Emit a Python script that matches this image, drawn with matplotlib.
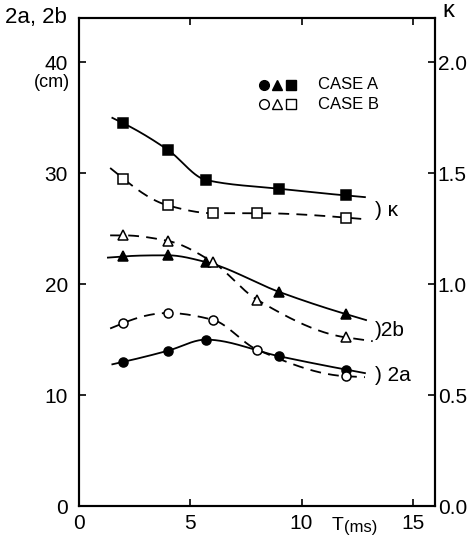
import numpy as np
import matplotlib
matplotlib.use("Agg")
import matplotlib.pyplot as plt

plt.rcParams['font.family'] = ['Liberation Sans', 'DejaVu Sans']

# data, T in ms
t_a_circ = [2.0, 4.0, 5.7, 9.0, 12.0]
a_case_a = [13.0, 14.0, 15.0, 13.5, 12.3]      # 2a, case A (cm)
t_b_circ = [2.0, 4.0, 6.0, 8.0, 12.0]
a_case_b = [16.5, 17.4, 16.8, 14.1, 11.7]      # 2a, case B (cm)

t_a_tri = [2.0, 4.0, 5.7, 9.0, 12.0]
b_case_a = [22.5, 22.6, 22.0, 19.3, 17.3]      # 2b, case A (cm)
t_b_tri = [2.0, 4.0, 6.0, 8.0, 12.0]
b_case_b = [24.4, 23.9, 22.0, 18.6, 15.2]      # 2b, case B (cm)

t_a_sq = [2.0, 4.0, 5.7, 9.0, 12.0]
k_case_a = [1.725, 1.605, 1.47, 1.43, 1.40]    # kappa, case A
t_b_sq = [2.0, 4.0, 6.0, 8.0, 12.0]
k_case_b = [1.475, 1.355, 1.32, 1.32, 1.30]    # kappa, case B

# extent of each drawn curve (ms)
span_a_circ = (1.5, 12.85)
span_b_circ = (1.4, 12.85)
span_a_tri = (1.3, 12.9)
span_b_tri = (1.4, 13.2)
span_a_sq = (1.5, 12.85)
span_b_sq = (1.4, 12.7)


def smooth(x, y, lo, hi, n=200):
    # shape-preserving cubic (pchip) through the points, linear past the ends
    x = np.asarray(x, float)
    y = np.asarray(y, float)
    h = np.diff(x)
    delta = np.diff(y) / h
    m = len(x)
    d = np.zeros(m)
    for k in range(1, m - 1):
        if delta[k - 1] * delta[k] > 0:
            w1 = 2 * h[k] + h[k - 1]
            w2 = h[k] + 2 * h[k - 1]
            d[k] = (w1 + w2) / (w1 / delta[k - 1] + w2 / delta[k])

    def end_slope(h0, h1, d0, d1):
        s = ((2 * h0 + h1) * d0 - h0 * d1) / (h0 + h1)
        if np.sign(s) != np.sign(d0):
            s = 0.0
        elif np.sign(d0) != np.sign(d1) and abs(s) > abs(3 * d0):
            s = 3 * d0
        return s

    d[0] = end_slope(h[0], h[1], delta[0], delta[1])
    d[-1] = end_slope(h[-1], h[-2], delta[-1], delta[-2])

    xs = np.linspace(lo, hi, n)
    ys = np.empty_like(xs)
    for j, xv in enumerate(xs):
        if xv < x[0]:
            ys[j] = y[0] + d[0] * (xv - x[0])
        elif xv > x[-1]:
            ys[j] = y[-1] + d[-1] * (xv - x[-1])
        else:
            i = int(np.clip(np.searchsorted(x, xv) - 1, 0, m - 2))
            t = (xv - x[i]) / h[i]
            h00 = 2 * t ** 3 - 3 * t ** 2 + 1
            h10 = t ** 3 - 2 * t ** 2 + t
            h01 = -2 * t ** 3 + 3 * t ** 2
            h11 = t ** 3 - t ** 2
            ys[j] = h00 * y[i] + h10 * h[i] * d[i] + h01 * y[i + 1] + h11 * h[i] * d[i + 1]
    return xs, ys


fig = plt.figure(figsize=(4.68, 5.35), dpi=100)
ax = fig.add_axes([0.1688, 0.0542, 0.7607, 0.9122])
ax2 = ax.twinx()

lw = 1.3
dash = (0, (6, 4))

series = [
    (ax, t_a_circ, a_case_a, span_a_circ, 'o', True),
    (ax, t_b_circ, a_case_b, span_b_circ, 'o', False),
    (ax, t_a_tri, b_case_a, span_a_tri, '^', True),
    (ax, t_b_tri, b_case_b, span_b_tri, '^', False),
    (ax2, t_a_sq, k_case_a, span_a_sq, 's', True),
    (ax2, t_b_sq, k_case_b, span_b_sq, 's', False),
]
for axis, tx, vy, span, mk, filled in series:
    xs, ys = smooth(tx, vy, *span)
    axis.plot(xs, ys, color='black', lw=lw, ls='-' if filled else dash, zorder=2)
    axis.plot(tx, vy, ls='none', marker=mk, ms=7.5 if mk != 'o' else 6.5,
              mfc='black' if filled else 'white', mec='black', mew=1.1, zorder=3)

ax.set_xlim(0, 16)
ax.set_ylim(0, 44)
ax2.set_ylim(0, 2.2)

ax.set_xticks([0, 5, 10, 15])
ax.set_yticks([0, 10, 20, 30, 40])
ax2.set_yticks([0.0, 0.5, 1.0, 1.5, 2.0])
ax2.set_yticklabels(['0.0', '0.5', '1.0', '1.5', '2.0'])
ax.tick_params(axis='both', direction='in', length=5, width=1.2, labelsize=15)
ax.tick_params(axis='x', top=True, pad=6)
ax.tick_params(axis='y', pad=8)
ax2.tick_params(axis='y', direction='in', length=5, width=1.2, labelsize=15, pad=2)
for a in (ax, ax2):
    for s in a.spines.values():
        s.set_linewidth(1.5)

# axis captions
fig.text(5 / 468, 1 - 17 / 535, '2a, 2b', fontsize=16, ha='left', va='center')
fig.text(70 / 468, 1 - 82 / 535, '(cm)', fontsize=13, ha='right', va='center')
fig.text(442 / 468, 1 - 11 / 535, 'κ', fontsize=17, ha='left', va='center')
ax.text(11.9, -1.0, 'T', fontsize=14, ha='right', va='top', clip_on=False)
ax.text(11.9, -1.3, '(ms)', fontsize=12, ha='left', va='top', clip_on=False)

# curve labels
ax.text(13.3, 26.6, ') κ', fontsize=15, ha='left', va='center')
ax.text(13.3, 15.8, ')2b', fontsize=15, ha='left', va='center')
ax.text(13.3, 11.8, ') 2a', fontsize=15, ha='left', va='center')

# legend
for i, mk in enumerate(['o', '^', 's']):
    xm = 8.3 + i * 0.62
    ax.plot(xm, 38.0, marker=mk, ms=7, mfc='black', mec='black', ls='none')
    ax.plot(xm, 36.2, marker=mk, ms=7, mfc='white', mec='black', mew=1.0, ls='none')
ax.text(10.75, 38.0, 'CASE A', fontsize=12, ha='left', va='center')
ax.text(10.75, 36.2, 'CASE B', fontsize=12, ha='left', va='center')

fig.savefig('out.png', dpi=100)
